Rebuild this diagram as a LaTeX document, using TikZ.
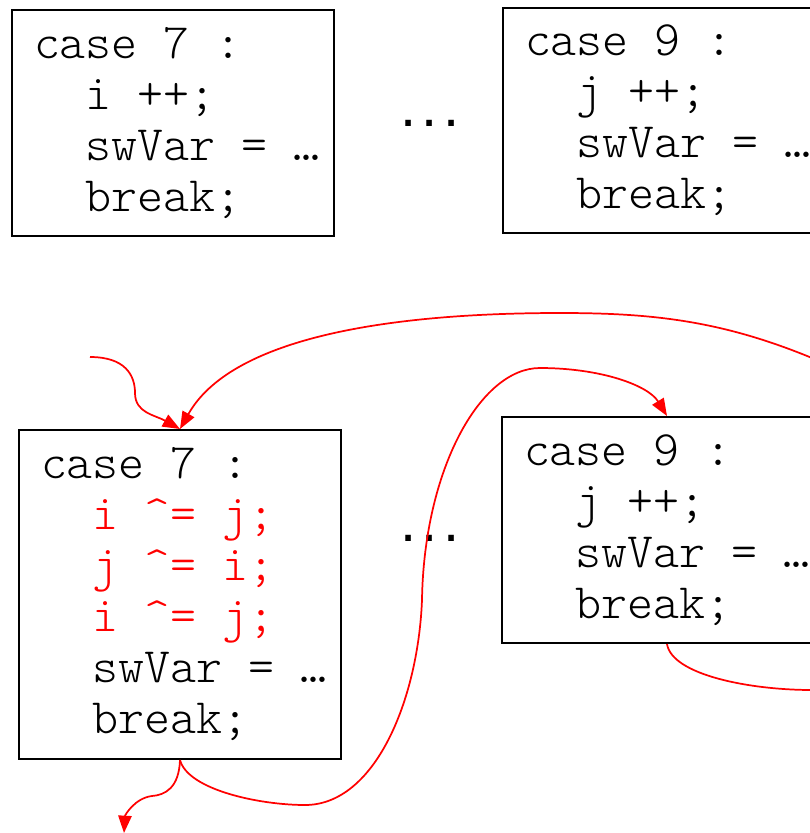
\documentclass[tikz,border=0pt]{standalone}
\usepackage{fontspec}
\usetikzlibrary{arrows.meta}
\newfontfamily\dotfont{Liberation Sans}
\newfontfamily\codefont{Latin Modern Mono Light}
\newcommand\ind{\hphantom{xx}}
\newcommand\blank{\hphantom{x}}
\newcommand\dotrow{.\kern3.75pt.\kern3.75pt.}
\begin{document}
\begin{tikzpicture}[x=0.75pt,y=-0.75pt,
  codebox/.style={draw=black,line width=1.5pt,anchor=north west,
    inner xsep=16.5pt,inner ysep=0pt,align=left,
    font={\codefont\fontsize{37.1pt}{38.25pt}\selectfont}},
  leftbox/.style={codebox,minimum width=241.5pt,text width=208.5pt},
  rightbox/.style={codebox,minimum width=247.5pt,text width=214.5pt},
  dotsnode/.style={anchor=base,inner sep=0pt,
    font={\dotfont\fontsize{43.5pt}{48pt}\selectfont}},
  flow/.style={draw=red,line width=1.3pt},
  flowarrow/.style={flow,-{Triangle[length=13pt,width=10pt]},fill=none}
]
\useasboundingbox (0,0) rectangle (810,833);
\clip (0,0) rectangle (810,833);

% original switch cases
\node[leftbox,minimum height=169.5pt] (boxA) at (11,9)
  {case\blank 7\blank :\\ \ind i\blank ++;\\ \ind swVar\blank =\blank …\\ \ind break;};
\node[rightbox,minimum height=168.75pt] (boxB) at (502,7)
  {case\blank 9\blank :\\ \ind j\blank ++;\\ \ind swVar\blank =\blank …\\ \ind break;};
\node[dotsnode] (dotsA) at (430,126) {\dotrow};

% transformed switch cases
\node[leftbox,minimum height=246.75pt] (boxC) at (18,429)
  {case\blank 7\blank :\\
   \ind\textcolor{red}{i\blank \textasciicircum=\blank j;}\\
   \ind\textcolor{red}{j\blank \textasciicircum=\blank i;}\\
   \ind\textcolor{red}{i\blank \textasciicircum=\blank j;}\\
   \ind swVar\blank =\blank …\\ \ind break;};
\node[rightbox,minimum height=169.5pt] (boxD) at (501,416)
  {case\blank 9\blank :\\ \ind j\blank ++;\\ \ind swVar\blank =\blank …\\ \ind break;};
\node[dotsnode] (dotsB) at (430,541) {\dotrow};

% free ends of the control-flow edges
\coordinate (in1) at (90,357);
\coordinate (r1) at (812,358);
\coordinate (r2) at (812,690);
\coordinate (out1) at (124,833);

% control flow
\draw[flowarrow] (in1) .. controls (125,357) and (135,375) .. (135,393)
  .. controls (135,413) and (155,415) .. (boxC.north);
\draw[flowarrow] (r1) .. controls (720,320) and (650,313) .. (560,313)
  .. controls (380,313) and (230,340) .. (boxC.north);
\draw[flowarrow] (boxC.south) .. controls (188,790) and (260,805) .. (305,805)
  .. controls (375,805) and (418,700) .. (422,600)
  .. controls (424,470) and (480,368) .. (540,368)
  .. controls (600,368) and (648,385) .. (boxD.north);
\draw[flow] (boxD.south) .. controls (672,675) and (750,690) .. (r2);
\draw[flowarrow] (boxC.south) .. controls (179,788) and (165,795) .. (152,796)
  .. controls (135,798) and (125,815) .. (out1);
\end{tikzpicture}
\end{document}
